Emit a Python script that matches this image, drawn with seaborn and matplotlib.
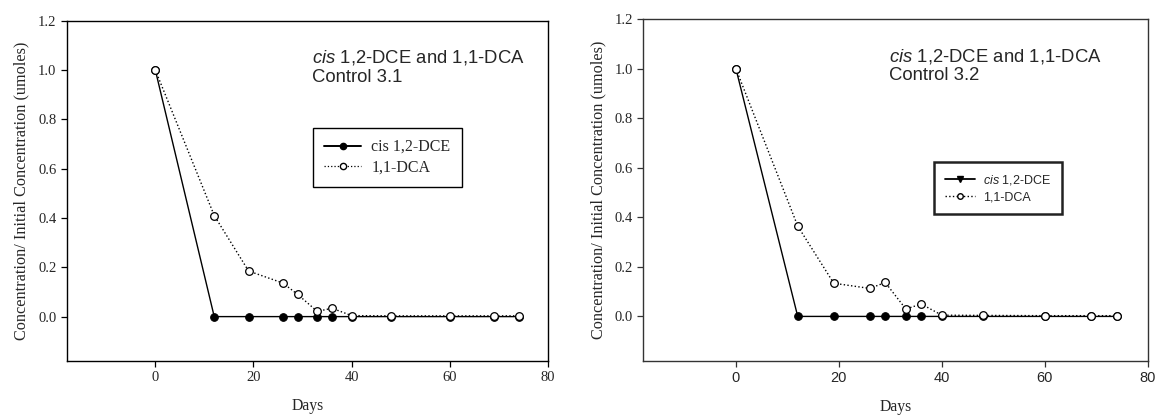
import numpy as np
import pandas as pd
import matplotlib
matplotlib.use("Agg")
import matplotlib.pyplot as plt
from matplotlib.lines import Line2D
import seaborn as sns

# sampling days (cis 1,2-DCE points hidden under the open circles after day 36)
days = [0, 12, 19, 26, 29, 33, 36, 40, 48, 60, 69, 74]

# Control 3.1
dce_31 = [1.0, 0, 0, 0, 0, 0, 0, 0, 0, 0, 0, 0]
dca_31 = [1.0, 0.41, 0.185, 0.136, 0.09, 0.021, 0.034, 0.004, 0.003, 0.003, 0.003, 0.003]

# Control 3.2
dce_32 = [1.0, 0, 0, 0, 0, 0, 0, 0, 0, 0, 0, 0]
dca_32 = [1.0, 0.365, 0.134, 0.113, 0.137, 0.03, 0.05, 0.005, 0.004, 0.003, 0.003, 0.003]

x_ticks = [0, 20, 40, 60, 80]
y_ticks = [0.0, 0.2, 0.4, 0.6, 0.8, 1.0, 1.2]

sns.set_style("ticks")
plt.rcParams["font.family"] = ["Liberation Serif", "DejaVu Serif"]
plt.rcParams["mathtext.fontset"] = "custom"
plt.rcParams["mathtext.rm"] = "Liberation Sans"
plt.rcParams["mathtext.it"] = "Liberation Sans:italic"

fig = plt.figure(figsize=(11.57, 4.18), dpi=100)
ax1 = fig.add_axes([0.0579, 0.1364, 0.4157, 0.814])
ax2 = fig.add_axes([0.556, 0.1364, 0.436, 0.8175])

panels = [
    (ax1, dce_31, dca_31, "Control 3.1", 0.509, "black"),
    (ax2, dce_32, dca_32, "Control 3.2", 0.488, "#333333"),
]

for ax, dce, dca, name, tx, spine_col in panels:
    df = pd.DataFrame({"Days": days, "DCE": dce, "DCA": dca})
    sns.lineplot(data=df, x="Days", y="DCE", ax=ax, color="black", lw=1.0,
                 marker="o", markersize=5.5, markerfacecolor="black",
                 markeredgecolor="black")
    sns.lineplot(data=df, x="Days", y="DCA", ax=ax, color="black", lw=1.0,
                 linestyle=":", marker="o", markersize=5.5,
                 markerfacecolor="white", markeredgecolor="black",
                 markeredgewidth=0.9)
    ax.set_xlim(-18, 80)
    ax.set_ylim(-0.18, 1.2)
    ax.set_xticks(x_ticks)
    ax.set_yticks(y_ticks)
    ax.set_yticklabels([f"{v:.1f}" for v in y_ticks], fontsize=10.5)
    ax.set_xlabel("Days", fontsize=11.3, labelpad=10)
    ax.set_ylabel("Concentration/ Initial Concentration (umoles)", fontsize=11.7,
                  labelpad=6)
    for s in ax.spines.values():
        s.set_visible(True)
        s.set_color(spine_col)
        s.set_linewidth(1.0)
    ax.tick_params(axis="both", length=4, width=0.9, color=spine_col,
                   direction="out", top=False, right=False)
    ax.text(tx, 0.92, r"$\mathit{cis}$ 1,2-DCE and 1,1-DCA" + "\n" + name,
            transform=ax.transAxes, fontsize=13.3, va="top", ha="left",
            family="Liberation Sans", linespacing=1.12)

# left panel: x tick labels in serif
ax1.set_xticklabels([str(v) for v in x_ticks], fontsize=10.5)
ax1.legend(handles=[
    Line2D([], [], color="black", lw=1.4, marker="o", markersize=4.5,
           markerfacecolor="black"),
    Line2D([], [], color="black", lw=0.9, ls=":", marker="o", markersize=4.5,
           markerfacecolor="white"),
], labels=["cis 1,2-DCE", "1,1-DCA"], loc="upper left",
    bbox_to_anchor=(0.512, 0.685), borderaxespad=0, fancybox=False,
    framealpha=1, edgecolor="black", fontsize=11.5, handlelength=2.3,
    handletextpad=0.63, borderpad=0.7, labelspacing=0.3)

# right panel: x tick labels in sans
ax2.set_xticklabels([str(v) for v in x_ticks], fontsize=10.5,
                    family="Liberation Sans")
leg2 = ax2.legend(handles=[
    Line2D([], [], color="black", lw=1.3, marker="v", markersize=4,
           markerfacecolor="black"),
    Line2D([], [], color="black", lw=1.0, ls=":", marker="o", markersize=4,
           markerfacecolor="white"),
], labels=[r"$\mathit{cis}$ 1,2-DCE", "1,1-DCA"], loc="upper left",
    bbox_to_anchor=(0.576, 0.582), borderaxespad=0, fancybox=False,
    framealpha=1, edgecolor="#222222",
    prop={"family": "Liberation Sans", "size": 9},
    handlelength=2.4, handletextpad=0.6, borderpad=0.9, labelspacing=0.3)
leg2.get_frame().set_linewidth(1.8)

plt.savefig("out.png", dpi=100)
